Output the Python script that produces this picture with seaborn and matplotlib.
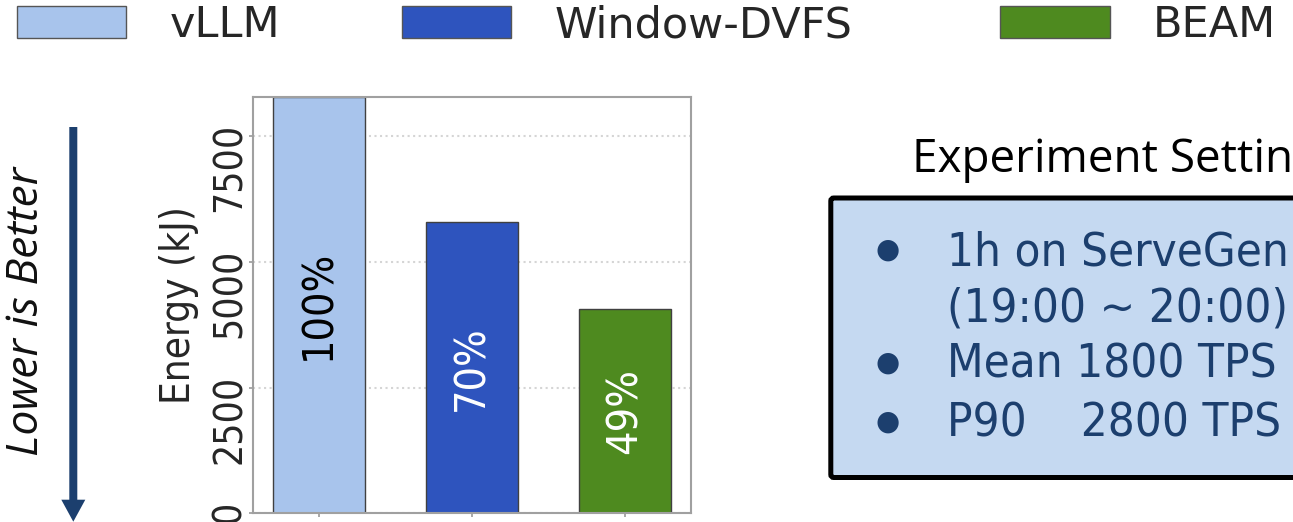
import matplotlib
matplotlib.use("Agg")
import matplotlib.pyplot as plt
from matplotlib import font_manager as fm
from matplotlib.patches import FancyBboxPatch, FancyArrow, Patch
from matplotlib.transforms import ScaledTranslation
import pandas as pd
import seaborn as sns

# ---- data -------------------------------------------------------------
methods = ["vLLM", "Window-DVFS", "BEAM"]
energy_kj = [8280, 5780, 4070]
bar_colors = ["#A8C4EC", "#2E54BE", "#4E8A1F"]
pct_colors = ["black", "white", "white"]
y_ticks = [0, 2500, 5000, 7500]
y_label = "Energy (kJ)"
arrow_text = "Lower is Better"
setting_title = "Experiment Setting"
setting_bullets = [True, False, True, True]
setting_lines = ["1h on ServeGen", "(19:00 ~ 20:00)", "Mean 1800 TPS", "P90    2800 TPS"]

# ---- fonts ------------------------------------------------------------
sns.set_theme(style="white")
plt.rcParams["font.family"] = ["DejaVu Sans"]


def narrow_font(size):
    """A Tahoma-like narrow sans: DejaVu Sans Condensed when present."""
    for f in fm.fontManager.ttflist:
        fn = f.fname.lower()
        if "dejavusanscondensed" in fn.replace("-", "").replace("_", "") and "bold" not in fn and "oblique" not in fn:
            return fm.FontProperties(fname=f.fname, size=size)
    for name in ("Liberation Sans Narrow", "Liberation Sans"):
        if any(f.name == name for f in fm.fontManager.ttflist):
            return fm.FontProperties(family=name, size=size)
    return fm.FontProperties(family="DejaVu Sans", size=size)


W, H = 1293, 522
fig = plt.figure(figsize=(W / 100, H / 100), dpi=100, facecolor="white")

# ---- bar chart --------------------------------------------------------
ax = fig.add_axes([252.7 / W, (H - 513.3) / H, (691 - 252.7) / W, (513.3 - 96.7) / H])
df = pd.DataFrame({"method": methods, "energy": energy_kj})
sns.barplot(data=df, x="method", y="energy", hue="method", palette=bar_colors,
            saturation=1, width=0.6, edgecolor="#404040", linewidth=1.0,
            legend=False, ax=ax)

base = energy_kj[0]
for cont, val, col in zip(ax.containers, energy_kj, pct_colors):
    ax.bar_label(cont, labels=[f"{val / base:.0%}"], label_type="center",
                 rotation=90, color=col, fontproperties=narrow_font(31))

ax.set_xlim(-0.43, 2.43)
ax.set_ylim(0, max(energy_kj))
ax.set_xlabel("")
ax.set_yticks(y_ticks)
ax.set_yticklabels([str(t) for t in y_ticks], rotation=90, va="top")
ax.set_ylabel(y_label, fontproperties=narrow_font(29), labelpad=8)
ax.tick_params(axis="x", bottom=True, length=3, width=1.2, color="#999999", labelbottom=False)
ax.tick_params(axis="y", left=True, length=3, width=1.2, color="#999999", pad=0)
ax.yaxis.grid(True, linestyle=":", color="#D5D5D5", linewidth=1.5)
ax.xaxis.grid(False)
ax.set_axisbelow(True)
for sp in ax.spines.values():
    sp.set_color("#A0A0A0")
    sp.set_linewidth(1.5)

# rotated tick labels hang just above each tick and run downward
lift = ScaledTranslation(0, 0.13, fig.dpi_scale_trans)
for tick in ax.yaxis.get_major_ticks():
    tick.label1.set_fontproperties(narrow_font(28))
    tick.label1.set_transform(tick.label1.get_transform() + lift)

# ---- legend (one entry per method, laid out across the top) -----------
leg_x = [16.7, 401.7, 1000.0]
for m, c, x in zip(methods, bar_colors, leg_x):
    fig.legend(handles=[Patch(facecolor=c, edgecolor="#555555", linewidth=1.0)], labels=[m],
               loc="center left", bbox_to_anchor=(x / W, 1 - 25 / H), frameon=False,
               fontsize=31, borderpad=0, borderaxespad=0, handlelength=2.55,
               handleheight=0.74, handletextpad=1.0)

# ---- side annotations (pixel coordinates) -----------------------------
ov = fig.add_axes([0, 0, 1, 1], zorder=-1)
ov.set_xlim(0, W)
ov.set_ylim(H, 0)
ov.axis("off")

navy = "#1C3F6E"
ov.add_patch(FancyArrow(73.3, 127, 0, 521.7 - 127, width=8, head_width=24, head_length=22,
                        length_includes_head=True, color=navy, linewidth=0))
ov.text(27, 311.5, arrow_text, rotation=90, ha="center", va="center",
        family="Open Sans", style="italic", fontsize=32, color="#111111")

ov.text(911.7, 171.7, setting_title, ha="left", va="baseline",
        family="Open Sans", fontsize=33, color="black")
ov.add_patch(FancyBboxPatch((830.8, 198), 520, 279.5,
                            boxstyle="round,pad=0,rounding_size=3",
                            linewidth=3.6, edgecolor="black", facecolor="#C5D9F1"))

baselines = [265, 321.7, 378, 436.7]
for has_dot, line, yb in zip(setting_bullets, setting_lines, baselines):
    ov.text(946.7, yb, line, ha="left", va="baseline", color=navy,
            fontproperties=narrow_font(34))
    if has_dot:
        ov.text(887.7, yb - 15, "\u25CF", ha="center", va="center", color=navy,
                family="DejaVu Sans", fontsize=20)

fig.savefig("out.png", dpi=100, facecolor="white")
